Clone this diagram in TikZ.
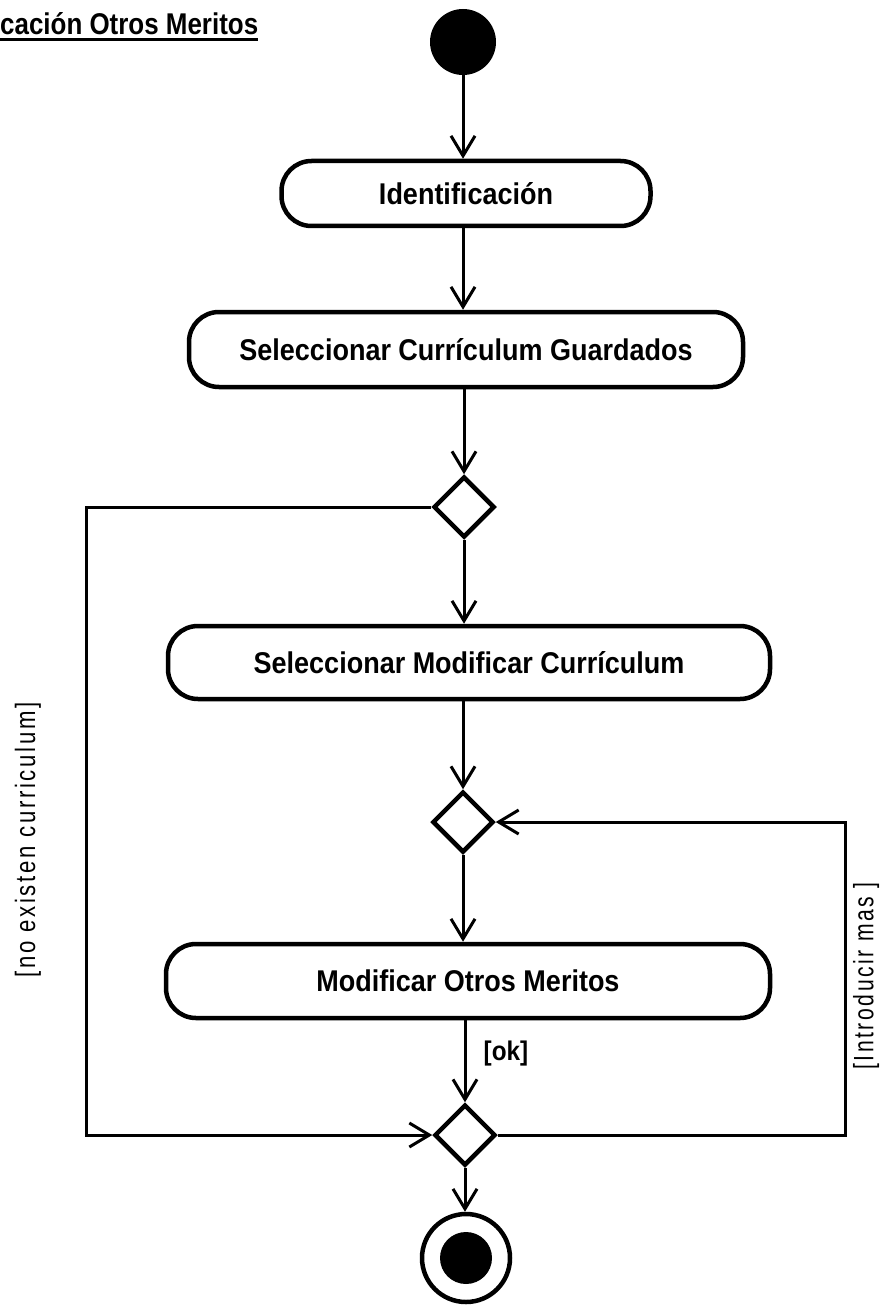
\documentclass[tikz,border=0pt]{standalone}
\usepackage{fontspec}
\setmainfont{Liberation Sans}
\usetikzlibrary{arrows.meta,shapes.geometric}
\newcommand\sqz[1]{\scalebox{0.9}[1]{#1}}
\tikzset{
  act/.style={draw, line width=4.5pt, rounded corners=30pt, inner sep=0pt,
    font=\fontsize{30}{32}\selectfont\bfseries},
  dec/.style={draw, diamond, line width=4.5pt, minimum width=61pt, minimum height=61pt,
    inner sep=0pt, aspect=1},
  flow/.style={line width=3pt, -{Straight Barb[length=20pt,width=24pt,line width=3pt]}},
  guard/.style={font=\fontsize{28}{30}\selectfont\addfontfeature{LetterSpace=12}, inner sep=0pt, rotate=90},
  oklab/.style={font=\fontsize{27}{28}\selectfont\bfseries, inner sep=0pt},
  ttl/.style={font=\fontsize{30}{32}\selectfont\bfseries, inner sep=0pt},
}
\begin{document}
\begin{tikzpicture}[x=1pt,y=-1pt]
\useasboundingbox (0,0) rectangle (885,1305);
% title
\node[ttl, anchor=base west] (title) at (0,35) {\resizebox{258pt}{\height}{cación Otros Meritos}};
\draw[line width=2.5pt] (0,39.5) -- (258,39.5);
% nodes
\node[circle, fill=black, minimum size=66pt, inner sep=0pt] (start) at (463,42) {};
\node[act, minimum width=369pt, minimum height=65pt] (id) at (466,193.5) {\sqz{Identificación}};
\node[act, minimum width=554pt, minimum height=75pt] (scg) at (466,349.5) {\sqz{Seleccionar Currículum Guardados}};
\node[dec] (d1) at (464,507) {};
\node[act, minimum width=602pt, minimum height=73pt] (smc) at (469,662.5) {\sqz{Seleccionar Modificar Currículum}};
\node[dec] (d2) at (463,822) {};
\node[act, minimum width=604pt, minimum height=74pt] (mom) at (468,981) {\sqz{Modificar Otros Meritos}};
\node[dec] (d3) at (465,1135) {};
\node[circle, draw, line width=4.5pt, minimum size=88pt, inner sep=0pt] (endo) at (466,1258) {};
\node[circle, fill=black, minimum size=52pt, inner sep=0pt] (endi) at (466,1258) {};
% connectors
\draw[flow] (start.south) -- (start.south |- id.north);
\draw[flow] (id.south -| start) -- (scg.north -| start);
\draw[flow] (scg.south -| d1) -- (d1.north);
\draw[flow] (d1.south) -- (d1.south |- smc.north);
\draw[flow] (smc.south -| d2) -- (d2.north);
\draw[flow] (d2.south) -- (d2.south |- mom.north);
\draw[flow] (mom.south -| d3) -- (d3.north);
\draw[flow] (d3.south) -- (d3.south |- endo.north);
\coordinate (lc) at (86,507);
\coordinate (rc) at (845,1135);
\draw[flow] (d1.west) -- (lc) |- (d3.west);
\draw[flow] (d3.east) -- (rc) |- (d2.east);
% labels
\node[guard] (lg) at (28,840) {\resizebox{275pt}{\height}{[no  existen  curriculum]}};
\node[guard] (rg) at (866,976) {\resizebox{187pt}{\height}{[Introducir mas ]}};
\node[oklab] (ok) at (506,1054) {\sqz{[ok]}};
\end{tikzpicture}
\end{document}
